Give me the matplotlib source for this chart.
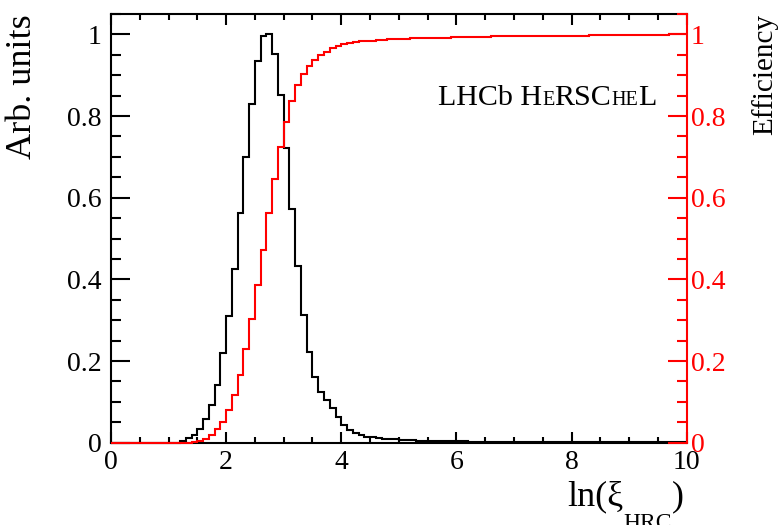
import numpy as np
import matplotlib
matplotlib.use("Agg")
import matplotlib.pyplot as plt

plt.rcParams["font.family"] = ["Liberation Serif", "DejaVu Serif"]

# ln(xi_HRC) binning: 100 bins of width 0.1 from 0 to 10
bin_lo = 0.0
bin_hi = 10.0
n_bins = 100

# normalised ln(xi_HRC) distribution (arb. units), one value per bin
arb_units = [
    0, 0, 0, 0, 0, 0, 0, 0, 0, 0,
    0, 0, 0.005, 0.011, 0.019, 0.034, 0.057, 0.093, 0.141, 0.219,
    0.311, 0.425, 0.563, 0.700, 0.829, 0.936, 0.997, 1.000, 0.953, 0.851,
    0.722, 0.573, 0.433, 0.313, 0.222, 0.162, 0.124, 0.104, 0.085, 0.064,
    0.044, 0.032, 0.023, 0.018, 0.015, 0.013, 0.011, 0.010, 0.009, 0.008,
    0.007, 0.006, 0.006, 0.005, 0.005, 0.004, 0.004, 0.004, 0.003, 0.003,
    0.003, 0.003, 0.002, 0.002, 0.002, 0.002, 0.002, 0.002, 0.001, 0.001,
    0.001, 0.001, 0.001, 0.001, 0.001, 0.001, 0.001, 0.001, 0.001, 0.001,
    0.0005, 0.0005, 0.0005, 0.0005, 0.0005, 0.0005, 0.0005, 0.0005, 0.0005, 0.0005,
    0.0005, 0.0005, 0.0005, 0.0005, 0.0005, 0.0005, 0.0005, 0.0005, 0.0005, 0.0005,
]

# cumulative efficiency for a cut on ln(xi_HRC), one value per bin
efficiency = [
    0, 0, 0, 0, 0, 0, 0, 0, 0, 0,
    0, 0, 0, 0, 0.001, 0.003, 0.010, 0.018, 0.033, 0.051,
    0.080, 0.117, 0.166, 0.229, 0.302, 0.385, 0.473, 0.563, 0.647, 0.723,
    0.786, 0.838, 0.875, 0.903, 0.923, 0.937, 0.949, 0.958, 0.966, 0.972,
    0.976, 0.979, 0.982, 0.983, 0.984, 0.985, 0.986, 0.987, 0.988, 0.988,
    0.989, 0.989, 0.990, 0.990, 0.991, 0.991, 0.992, 0.992, 0.992, 0.993,
    0.993, 0.993, 0.994, 0.994, 0.994, 0.994, 0.995, 0.995, 0.995, 0.995,
    0.995, 0.996, 0.996, 0.996, 0.996, 0.996, 0.996, 0.997, 0.997, 0.997,
    0.997, 0.997, 0.997, 0.998, 0.998, 0.998, 0.998, 0.998, 0.998, 0.998,
    0.999, 0.999, 0.999, 0.999, 0.999, 0.999, 0.999, 1.000, 1.000, 1.000,
]

edges = np.linspace(bin_lo, bin_hi, n_bins + 1)

fig = plt.figure(figsize=(7.79, 5.25), dpi=100)
ax = fig.add_axes([0.1425, 0.1568, 0.739, 0.8166])
ax2 = ax.twinx()

ax.stairs(arb_units, edges, color="black", lw=1.5, baseline=None, clip_on=False)
ax2.stairs(efficiency, edges, color="red", lw=1.5, baseline=None, clip_on=False)

for a in (ax, ax2):
    a.set_xlim(0, 10)
    a.set_ylim(0, 1.05)
    a.set_yticks(np.arange(0, 1.01, 0.2))
    a.set_yticks(np.arange(0, 1.051, 0.05), minor=True)

ax.set_xticks(np.arange(0, 10.1, 2))
ax.set_xticks(np.arange(0, 10.01, 0.5), minor=True)
ax.set_xticklabels(["0", "2", "4", "6", "8", "10"])
ax.set_yticklabels(["0", "0.2", "0.4", "0.6", "0.8", "1"])
ax2.set_yticklabels(["0", "0.2", "0.4", "0.6", "0.8", "1"])

for sp in ax.spines.values():
    sp.set_linewidth(1.5)
ax.spines["right"].set_visible(False)
for side in ("left", "top", "bottom"):
    ax2.spines[side].set_visible(False)
ax2.spines["right"].set_color("red")
ax2.spines["right"].set_linewidth(1.5)

ax.tick_params(axis="x", which="both", direction="in", top=True, width=1.5,
               labelsize=20, pad=5)
ax.tick_params(axis="x", which="major", length=8)
ax.tick_params(axis="x", which="minor", length=4.5)
ax.tick_params(axis="y", which="both", direction="in", right=False, width=1.5,
               labelsize=20, pad=7)
ax.tick_params(axis="y", which="major", length=13.5)
ax.tick_params(axis="y", which="minor", length=7)
ax2.tick_params(axis="y", which="both", direction="in", colors="red", width=1.5,
                labelsize=20, pad=3)
ax2.tick_params(axis="y", which="major", length=13.5)
ax2.tick_params(axis="y", which="minor", length=7)

# axis titles
ax.text(-0.153, 1.0, "Arb. units", transform=ax.transAxes, rotation=90,
        ha="center", va="top", fontsize=26)
ax.text(1.136, 1.0, "Efficiency", transform=ax.transAxes, rotation=90,
        ha="center", va="top", fontsize=21)

# x title ln(xi_HRC), right aligned at the axis end
t1 = ax.text(0.792, -0.145, "ln(ξ", transform=ax.transAxes,
             ha="left", va="baseline", fontsize=26, clip_on=False)
t2 = ax.annotate("HRC", xy=(1, -0.201), xycoords=(t1, "axes fraction"),
                 ha="left", va="baseline", fontsize=17, annotation_clip=False)
ax.annotate(")", xy=(1, -0.145), xycoords=(t2, "axes fraction"),
            ha="left", va="baseline", fontsize=26, annotation_clip=False)

# LHCb HeRSCheL in small capitals
by = 0.788
prev = ax.text(0.568, by, "LHCb H", transform=ax.transAxes,
               ha="left", va="baseline", fontsize=21.6)
for piece, size in [("E", 14.5), ("RSC", 21.6), ("HE", 14.5), ("L", 21.6)]:
    prev = ax.annotate(piece, xy=(1, by), xycoords=(prev, "axes fraction"),
                       ha="left", va="baseline", fontsize=size)

fig.savefig("out.png", dpi=100)
